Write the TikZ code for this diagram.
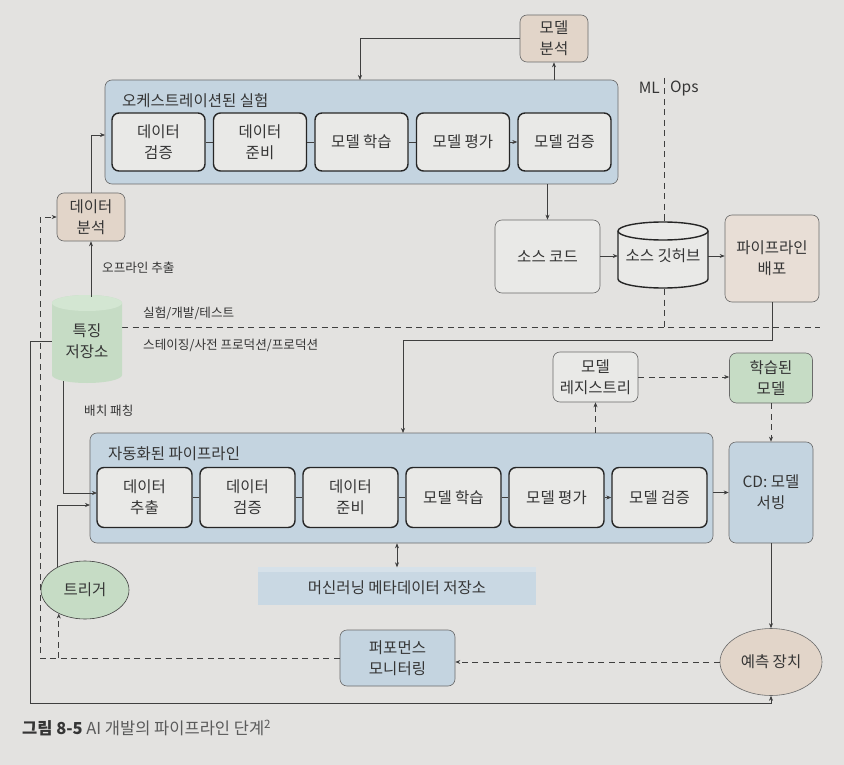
\documentclass[tikz,border=0pt]{standalone}
\usepackage{fontspec}
\setmainfont{Noto Sans CJK KR}
\usetikzlibrary{arrows.meta,calc,shapes.geometric}

\definecolor{paper}{HTML}{E3E2E0}
\definecolor{pipeblue}{HTML}{C4D4E0}
\definecolor{metablue}{HTML}{C9D8E3}
\definecolor{metatop}{HTML}{D6E1E9}
\definecolor{beige}{HTML}{E2D5C9}
\definecolor{beigelt}{HTML}{E8DED6}
\definecolor{sage}{HTML}{C6DCC5}
\definecolor{sagelt}{HTML}{D3E6D2}
\definecolor{stagefill}{HTML}{E9E9E7}
\definecolor{ink}{HTML}{353535}
\definecolor{capgrey}{HTML}{5A5A5A}
\definecolor{wire}{HTML}{3F3F3F}
\definecolor{rim}{HTML}{6A6A6A}

\tikzset{
  every node/.style={text=ink, font=\fontsize{15.5}{21}\selectfont},
  group/.style={draw=rim, line width=0.6pt, fill=pipeblue, rounded corners=7pt, inner sep=0pt},
  stage/.style={draw=black!85, line width=1.4pt, fill=stagefill, rounded corners=7pt,
                minimum height=58, align=center, inner sep=2pt},
  card/.style={draw=rim, line width=0.6pt, rounded corners=7pt, align=center, inner sep=2pt},
  lbl/.style={font=\fontsize{12.6}{15}\selectfont, anchor=west, inner sep=0pt},
  title/.style={anchor=west, inner sep=0pt},
  wirel/.style={draw=wire, line width=0.6pt},
  arr/.style={wirel, -{Stealth[length=5pt,width=4pt]}},
  dwire/.style={wirel, dash pattern=on 6pt off 4.5pt},
  darr/.style={dwire, -{Stealth[length=5pt,width=4pt]}},
  drum/.style={line width=1.4pt, draw=black!85},
}

\begin{document}
\begin{tikzpicture}[x=1pt, y=-1pt]
  % page
  \useasboundingbox (0,0) rectangle (844,765);
  \fill[paper] (0,0) rectangle (844,765);

  % ---------- orchestrated experiment ----------
  \node[group, minimum width=513, minimum height=104] (exp) at (361.5,132) {};
  \node[title] at (122,101) {오케스트레이션된 실험};
  \node[stage, minimum width=93] (e1) at (158.5,142) {데이터\\검증};
  \node[stage, minimum width=93] (e2) at (260,142)   {데이터\\준비};
  \node[stage, minimum width=93] (e3) at (361.5,142) {모델 학습};
  \node[stage, minimum width=93] (e4) at (463,142)   {모델 평가};
  \node[stage, minimum width=93] (e5) at (564.5,142) {모델 검증};
  \draw[wirel] (e1) -- (e2);
  \draw[wirel] (e2) -- (e3);
  \draw[wirel] (e3) -- (e4);
  \draw[arr]   (e4) -- (e5);

  % model analysis
  \node[card, fill=beige, minimum width=68, minimum height=47] (ma) at (554,38.5) {모델\\분석};
  \coordinate (maback) at (360,80);
  \draw[arr] (ma.south |- exp.north) -- (ma.south);
  \draw[arr] (ma.west) -| (maback);

  % data analysis
  \node[card, fill=beige, minimum width=68, minimum height=48] (da) at (91,217) {데이터\\분석};
  \coordinate (dain) at (105,135);
  \draw[arr] (da.north) |- (dain);

  % ---------- source / deploy ----------
  \node[card, fill=stagefill, minimum width=105, minimum height=73] (sc) at (547.5,256.5) {소스 코드};
  \draw[arr] (exp.south -| sc.north) -- (sc.north);

  % source github drum
  \draw[drum, fill=stagefill] (618,231) -- (618,279)
      arc[start angle=180, end angle=360, x radius=45pt, y radius=9pt] -- (708,231)
      arc[start angle=0, end angle=180, x radius=45pt, y radius=9pt] -- cycle;
  \draw[drum] (618,231) arc[start angle=180, end angle=360, x radius=45pt, y radius=9pt];
  \node[minimum width=90, minimum height=66, inner sep=0pt] (gh) at (663,256) {소스 깃허브};

  \node[card, fill=beigelt, minimum width=94, minimum height=87] (pd) at (772,258.5) {파이프라인\\배포};
  \draw[arr] (sc.east |- gh.west) -- (gh.west);
  \draw[arr] (gh.east) -- (gh.east -| pd.west);

  % ML / Ops divide
  \node[anchor=east, inner sep=0pt] at (660,88) {ML};
  \node[anchor=west, inner sep=0pt] at (670,88) {Ops};
  \coordinate (mltop) at (664,78);
  \coordinate (bndL) at (122,327);
  \coordinate (bndR) at (820,327);
  \draw[dwire] (mltop) -- (mltop |- gh.north);
  \draw[dwire] (mltop |- gh.south) -- (mltop |- bndL);
  \draw[dwire] (bndL) -- (bndR);
  \node[lbl] at (143,313) {실험/개발/테스트};
  \node[lbl] at (143,345) {스테이징/사전 프로덕션/프로덕션};

  % ---------- feature store drum ----------
  \fill[sage] (52,303) -- (52,375)
      arc[start angle=180, end angle=360, x radius=35pt, y radius=8pt] -- (122,303)
      arc[start angle=0, end angle=180, x radius=35pt, y radius=8pt] -- cycle;
  \fill[sagelt] (87,303) ellipse[x radius=35pt, y radius=8pt];
  \node[minimum width=70, minimum height=88, inner sep=0pt, align=center] (fs) at (87,341) {특징\\저장소};
  \draw[arr] (fs.north -| da.south) -- (da.south);
  \node[lbl] at (102,268) {오프라인 추출};

  % ---------- automated pipeline ----------
  \node[group, minimum width=623, minimum height=110] (auto) at (401.5,488) {};
  \node[title] at (108,454) {자동화된 파이프라인};
  \node[stage, minimum width=95, minimum height=60] (a1) at (144.5,497.5) {데이터\\추출};
  \node[stage, minimum width=95, minimum height=60] (a2) at (247.5,497.5) {데이터\\검증};
  \node[stage, minimum width=95, minimum height=60] (a3) at (350.5,497.5) {데이터\\준비};
  \node[stage, minimum width=95, minimum height=60] (a4) at (453.5,497.5) {모델 학습};
  \node[stage, minimum width=95, minimum height=60] (a5) at (556.5,497.5) {모델 평가};
  \node[stage, minimum width=95, minimum height=60] (a6) at (659.5,497.5) {모델 검증};
  \draw[wirel] (a1) -- (a2);
  \draw[wirel] (a2) -- (a3);
  \draw[wirel] (a3) -- (a4);
  \draw[wirel] (a4) -- (a5);
  \draw[arr]   (a5) -- (a6);

  % deploy feeds the automated pipeline
  \coordinate (pdturn) at (772,340);
  \coordinate (autoin) at (403,433);
  \draw[arr] (pd.south) |- (autoin |- pdturn) -- (autoin);

  % batch fetching
  \coordinate (fsb) at (63,381);
  \coordinate (a1in) at (97,493);
  \draw[arr] (fsb) |- (a1in);
  \node[lbl] at (84,411) {배치 패칭};

  % trigger
  \node[ellipse, draw=wire, line width=0.6pt, fill=sage, minimum width=88, minimum height=58, inner sep=0pt] (tr) at (85,590) {트리거};
  \coordinate (trin) at (90,505);
  \draw[arr] (tr.140) |- (trin);

  % registry / trained model / serving
  \node[card, fill=stagefill, minimum width=85, minimum height=50] (rg) at (595.5,377) {모델\\레지스트리};
  \node[card, fill=sage, minimum width=83, minimum height=50] (tm) at (771,378) {학습된\\모델};
  \node[card, fill=pipeblue, minimum width=84, minimum height=101] (cd) at (771,492.5) {CD: 모델\\서빙};
  \draw[darr] (rg.south |- auto.north) -- (rg.south);
  \draw[darr] (rg.east) -- (rg.east -| tm.west);
  \draw[darr] (tm.south) -- (cd.north);
  \draw[arr] (cd.west -| auto.east) -- (cd.west);

  % metadata store
  \node[fill=metablue, minimum width=278, minimum height=37, inner sep=0pt] (md) at (397,586) {};
  \fill[metatop] (md.north west) rectangle ([yshift=-5pt]md.north east);
  \node at ([yshift=-2pt]md.center) {머신러닝 메타데이터 저장소};
  \draw[wirel, {Stealth[length=5pt,width=4pt]}-{Stealth[length=5pt,width=4pt]}] (md.north |- auto.south) -- (md.north);

  % prediction and monitoring
  \node[ellipse, draw=rim, line width=0.6pt, fill=beige, minimum width=102, minimum height=67, inner sep=0pt] (pr) at (771,662) {예측 장치};
  \node[card, fill=pipeblue, minimum width=115, minimum height=56] (pm) at (397.5,658) {퍼포먼스\\모니터링};
  \draw[arr] (cd.south) -- (pr.north);
  \draw[darr] (pr.west) -- (pr.west -| pm.east);

  % monitoring feedback to analysis and trigger
  \coordinate (fb) at (40,217);
  \draw[darr] (pm.west) -| (fb) -- (da.west);
  \draw[darr] (tr.222 |- pm.west) -- (tr.222);

  % feature store serves the predictor
  \coordinate (ol) at (30,703);
  \draw[arr] (fs.west) -- (fs.west -| ol) -- (ol) -| (pr.south);

  % caption
  \node[anchor=west, inner sep=0pt, font=\fontsize{16.5}{18}\selectfont] (cap) at (22,728)
    {\textbf{그림 8-5} \textcolor{capgrey}{AI 개발의 파이프라인 단계\textsuperscript{2}}};
\end{tikzpicture}
\end{document}
